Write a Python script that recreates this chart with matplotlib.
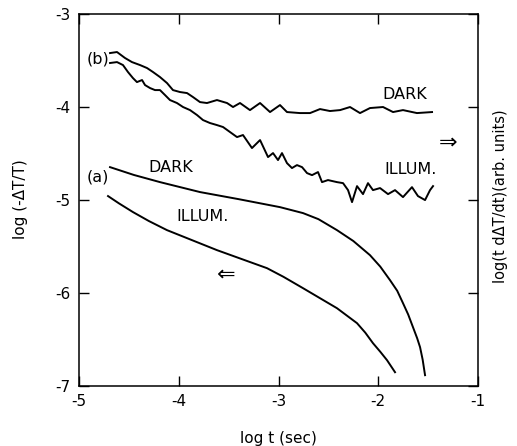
import matplotlib
matplotlib.use("Agg")
import matplotlib.pyplot as plt

plt.rcParams['font.family'] = ['DejaVu Sans']
plt.rcParams['axes.unicode_minus'] = False

# curve (a): log(-dT/T) vs log t, dark and illuminated
a_dark_x = [-4.689, -4.45, -4.188, -3.787, -3.4, -2.985, -2.754, -2.6, -2.414,
            -2.25, -2.083, -1.98, -1.882, -1.81, -1.752, -1.70, -1.652, -1.61,
            -1.581, -1.555, -1.531]
a_dark_y = [-4.651, -4.735, -4.812, -4.919, -4.995, -5.081, -5.145, -5.21,
            -5.328, -5.445, -5.597, -5.72, -5.866, -5.98, -6.113, -6.235,
            -6.371, -6.49, -6.586, -6.72, -6.887]
a_illum_x = [-4.709, -4.6, -4.459, -4.3, -4.118, -3.617, -3.115, -2.95, -2.754,
             -2.414, -2.213, -2.13, -2.053, -1.98, -1.912, -1.832]
a_illum_y = [-4.962, -5.04, -5.134, -5.23, -5.328, -5.543, -5.737, -5.83,
             -5.952, -6.167, -6.328, -6.43, -6.543, -6.635, -6.726, -6.855]

# curve (b): log(t dT/dt) (arb. units), noisy
b_dark_x = [-4.689, -4.619, -4.539, -4.469, -4.388, -4.318, -4.258, -4.188,
            -4.118, -4.058, -3.987, -3.917, -3.857, -3.787, -3.717, -3.617,
            -3.516, -3.456, -3.386, -3.286, -3.185, -3.085, -2.985, -2.915,
            -2.785, -2.684, -2.584, -2.484, -2.383, -2.283, -2.183, -2.083,
            -1.952, -1.852, -1.752, -1.612, -1.461]
b_dark_y = [-3.425, -3.414, -3.478, -3.522, -3.554, -3.586, -3.629, -3.683,
            -3.747, -3.823, -3.844, -3.855, -3.898, -3.952, -3.962, -3.930,
            -3.962, -4.005, -3.962, -4.038, -3.962, -4.059, -3.984, -4.059,
            -4.070, -4.070, -4.027, -4.048, -4.038, -4.005, -4.070, -4.016,
            -4.005, -4.059, -4.038, -4.070, -4.059]
b_illum_x = [-4.689, -4.619, -4.559, -4.509, -4.459, -4.419, -4.368, -4.338,
             -4.288, -4.238, -4.188, -4.138, -4.088, -4.018, -3.957, -3.887,
             -3.817, -3.757, -3.687, -3.617, -3.556, -3.486, -3.416, -3.356,
             -3.266, -3.185, -3.105, -3.055, -3.005, -2.965, -2.915, -2.865,
             -2.815, -2.764, -2.714, -2.664, -2.604, -2.564, -2.504, -2.414,
             -2.353, -2.303, -2.263, -2.213, -2.153, -2.103, -2.053, -1.982,
             -1.902, -1.832, -1.752, -1.662, -1.602, -1.531, -1.481, -1.451]
b_illum_y = [-3.532, -3.522, -3.554, -3.629, -3.694, -3.737, -3.715, -3.769,
             -3.801, -3.823, -3.823, -3.876, -3.930, -3.962, -4.005, -4.038,
             -4.091, -4.145, -4.177, -4.199, -4.220, -4.274, -4.328, -4.306,
             -4.446, -4.360, -4.543, -4.500, -4.575, -4.500, -4.608, -4.661,
             -4.629, -4.651, -4.715, -4.737, -4.704, -4.812, -4.790, -4.812,
             -4.823, -4.898, -5.027, -4.855, -4.941, -4.823, -4.898, -4.876,
             -4.941, -4.898, -4.973, -4.866, -4.962, -5.005, -4.898, -4.855]

fig = plt.figure(figsize=(5.17, 4.46), dpi=100)
ax = fig.add_axes([0.1528, 0.1352, 0.7718, 0.8345])

lw = 1.4
ax.plot(a_dark_x, a_dark_y, color='black', lw=lw)
ax.plot(a_illum_x, a_illum_y, color='black', lw=lw)
ax.plot(b_dark_x, b_dark_y, color='black', lw=lw)
ax.plot(b_illum_x, b_illum_y, color='black', lw=lw)

ax.set_xlim(-5, -1)
ax.set_ylim(-7, -3)
ax.set_xticks([-5, -4, -3, -2, -1])
ax.set_yticks([-7, -6, -5, -4, -3])
ax.tick_params(direction='in', top=True, right=True, length=7, width=1,
               labelsize=11, pad=6)
for s in ax.spines.values():
    s.set_linewidth(1.1)

ax.set_xlabel('log t (sec)', fontsize=11, labelpad=16)
ax.set_ylabel('log (-ΔT/T)', fontsize=11, labelpad=20)
ax.text(1.056, 0.51, 'log(t dΔT/dt)(arb. units)', transform=ax.transAxes,
        rotation=90, ha='center', va='center', fontsize=10.5)

fs = 11.5
ax.text(-4.70, -3.49, '(b)', ha='right', va='center', fontsize=fs)
ax.text(-4.70, -4.76, '(a)', ha='right', va='center', fontsize=fs)
ax.text(-4.08, -4.65, 'DARK', ha='center', va='center', fontsize=fs)
ax.text(-3.76, -5.18, 'ILLUM.', ha='center', va='center', fontsize=fs)
ax.text(-1.73, -3.87, 'DARK', ha='center', va='center', fontsize=fs)
ax.text(-1.68, -4.68, 'ILLUM.', ha='center', va='center', fontsize=fs)
ax.text(-1.30, -4.39, '⇒', ha='center', va='center', fontsize=16)
ax.text(-3.52, -5.81, '⇐', ha='center', va='center', fontsize=16)

fig.savefig('out.png', dpi=100)
